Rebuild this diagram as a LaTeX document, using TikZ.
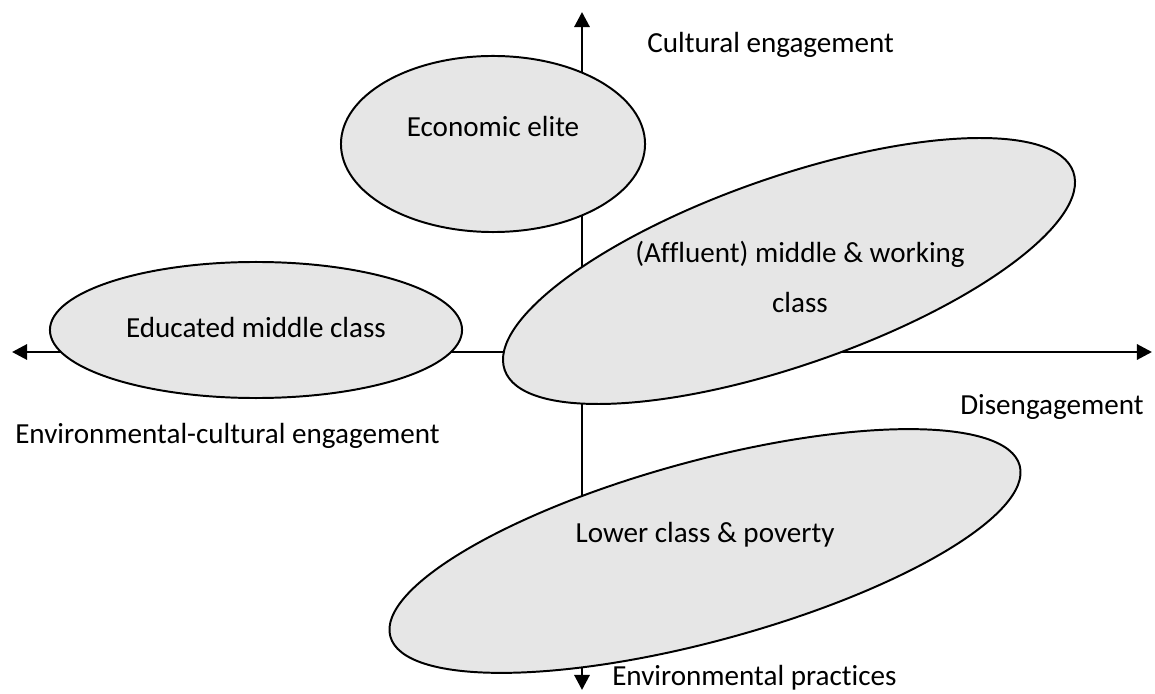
\documentclass[tikz,border=0pt]{standalone}
\usepackage{fontspec}
\setmainfont{Carlito}[Ligatures=CommonOff]
\usetikzlibrary{arrows.meta,shapes.geometric}
\definecolor{classgray}{RGB}{230,230,230}

\tikzset{
  group/.style={draw, ellipse, line width=1.4pt, fill=classgray, inner sep=0pt},
  axis/.style={line width=2.1pt, {Triangle[length=10.7pt,width=10.7pt]}-{Triangle[length=10.7pt,width=10.7pt]}},
  lbl/.style={inner sep=0pt}
}

\begin{document}
\begin{tikzpicture}[x=0.025cm, y=-0.025cm, font=\fontsize{20.7}{24.8}\selectfont]
\useasboundingbox (0,0) rectangle (1155,694);

% axes
\coordinate (axL) at (12,352);
\coordinate (axR) at (1152,352);
\coordinate (axT) at (582,12);
\coordinate (axB) at (582,690);
\draw[axis] (axL) -- (axR);
\draw[axis] (axT) -- (axB);

% axis labels
\node[lbl, anchor=base west] (cult) at (647,53) {Cultural engagement};
\node[lbl, anchor=base west] (diseng) at (960,414) {Disengagement};
\node[lbl, anchor=base west] (envcult) at (15,443) {Environmental-cultural engagement};
\node[lbl, anchor=base west] (envprac) at (612,685) {Environmental practices};

% class groups
\node[group, minimum width=7.6cm, minimum height=4.4cm] (elite) at (493,144) {};
\node[lbl, anchor=base] (eliteLbl) at (493,137) {Economic elite};

\node[group, minimum width=10.3cm, minimum height=3.4cm] (educ) at (256,330) {};
\node[lbl, anchor=base] (educLbl) at (256,337) {Educated middle class};

\node[group, minimum width=15.05cm, minimum height=4.7cm, rotate=19.2] (afflu) at (789,271) {};
\node[lbl, align=center] (affluLbl) at (800,277) {(Affluent) middle \& working\\[11pt]class};

\node[group, minimum width=16.3cm, minimum height=4.5cm, rotate=15.2] (lower) at (705,551) {};
\node[lbl, anchor=base] (lowerLbl) at (705,542) {Lower class \& poverty};
\end{tikzpicture}
\end{document}
